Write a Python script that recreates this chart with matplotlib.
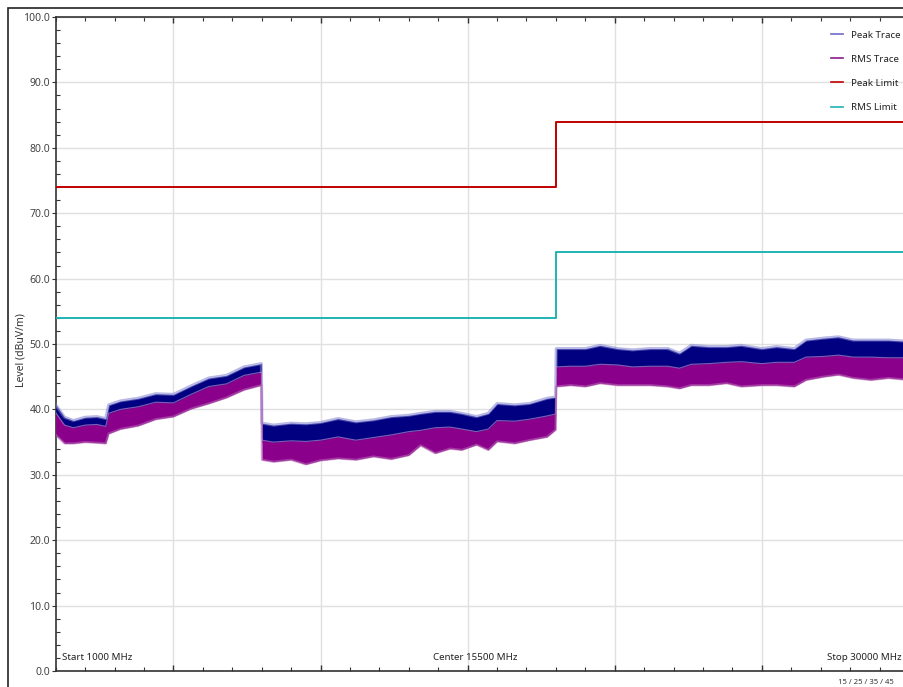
import numpy as np
import matplotlib.pyplot as plt
from matplotlib.lines import Line2D
from matplotlib.patches import Rectangle
from matplotlib.ticker import MultipleLocator, FormatStrFormatter

plt.rcParams['font.family'] = ['Noto Sans', 'DejaVu Sans']

# trace envelopes (MHz, dBuV/m)
freq = [1000, 1300, 1600, 2000, 2400, 2700, 2800, 3200, 3800, 4400, 5000, 5600,
        6200, 6800, 7400, 7990,
        8010, 8400, 9000, 9500, 10000, 10600, 11200, 11800, 12400, 13000, 13400,
        13900, 14400, 14800, 15300, 15700, 16000, 16600, 17100, 17700, 17990,
        18010, 18500, 19000, 19500, 20100, 20600, 21200, 21800, 22200, 22600,
        23200, 23800, 24300, 25000, 25500, 26100, 26500, 27100, 27600, 28100,
        28700, 29300, 30000]
peak_top = [40.7, 38.8, 38.3, 38.8, 38.9, 38.6, 40.7, 41.3, 41.7, 42.4, 42.3, 43.6,
            44.8, 45.2, 46.5, 47.0,
            37.9, 37.6, 37.9, 37.8, 38.0, 38.6, 38.1, 38.4, 38.9, 39.1, 39.4,
            39.7, 39.7, 39.4, 38.9, 39.4, 40.9, 40.7, 40.9, 41.7, 41.9,
            49.3, 49.3, 49.3, 49.8, 49.3, 49.1, 49.3, 49.3, 48.6, 49.8,
            49.6, 49.6, 49.8, 49.3, 49.6, 49.3, 50.6, 50.9, 51.1, 50.6,
            50.6, 50.6, 50.4]
rms_top = [39.5, 37.6, 37.2, 37.6, 37.7, 37.4, 39.4, 40.0, 40.4, 41.1, 41.0, 42.3,
           43.5, 43.9, 45.2, 45.7,
           35.3, 35.0, 35.2, 35.1, 35.3, 35.8, 35.3, 35.7, 36.1, 36.6, 36.8,
           37.2, 37.3, 37.0, 36.6, 37.0, 38.3, 38.2, 38.5, 39.0, 39.3,
           46.5, 46.6, 46.6, 46.9, 46.8, 46.5, 46.6, 46.6, 46.3, 46.9,
           47.0, 47.2, 47.3, 47.0, 47.2, 47.2, 48.0, 48.1, 48.3, 48.0,
           48.0, 47.9, 47.9]
rms_bottom = [36.1, 34.8, 34.8, 35.0, 34.9, 34.8, 36.3, 37.0, 37.5, 38.5, 38.9, 40.1,
              40.9, 41.8, 43.0, 43.7,
              32.3, 32.0, 32.3, 31.6, 32.2, 32.5, 32.3, 32.8, 32.4, 33.0, 34.5,
              33.3, 34.0, 33.8, 34.6, 33.8, 35.1, 34.8, 35.3, 35.8, 36.9,
              43.5, 43.7, 43.5, 44.0, 43.7, 43.7, 43.7, 43.5, 43.2, 43.7,
              43.7, 44.0, 43.5, 43.7, 43.7, 43.5, 44.5, 45.0, 45.3, 44.8,
              44.5, 44.8, 44.5]

limit_freq = [1000, 18000, 18000, 30000]
peak_limit = [74, 74, 84, 84]
rms_limit = [54, 54, 64, 64]

fig = plt.figure(figsize=(9.04, 6.87), dpi=100)
ax = fig.add_axes([55.7 / 904, 16 / 687, 853.3 / 904, 654 / 687])

# traces
ax.fill_between(freq, np.array(rms_top) - 0.5, peak_top, color='#000080', lw=0, zorder=3)
ax.plot(freq, peak_top, color='#8080d0', lw=2.2, alpha=0.55, zorder=3)
ax.fill_between(freq, rms_bottom, rms_top, color='#8b008b', lw=0, zorder=4)
ax.plot(freq, rms_top, color='#c8a0d8', lw=0.8, alpha=0.6, zorder=4)
ax.plot(freq, rms_bottom, color='#b060b0', lw=1.6, alpha=0.6, zorder=4)

# limits
ax.plot(limit_freq, peak_limit, color='#c00000', lw=1.4, zorder=5)
ax.plot(limit_freq, rms_limit, color='#1fb3b3', lw=1.4, zorder=5)

ax.set_xlim(1000, 30000)
ax.set_ylim(0, 100)
ax.xaxis.set_major_locator(MultipleLocator(5000))
ax.xaxis.set_minor_locator(MultipleLocator(1000))
ax.yaxis.set_major_locator(MultipleLocator(10))
ax.yaxis.set_minor_locator(MultipleLocator(2))
ax.yaxis.set_major_formatter(FormatStrFormatter('%.1f'))
ax.grid(True, which='major', color='#e0e0e0', lw=1)
ax.set_axisbelow(True)

ax.tick_params(axis='x', which='both', labelbottom=False, top=True, direction='in', color='#333333')
ax.tick_params(axis='x', which='major', length=4, width=1)
ax.tick_params(axis='x', which='minor', length=3, width=0.8)
ax.tick_params(axis='y', which='major', direction='out', length=3, labelsize=7.5,
               labelcolor='#444444', color='#333333', pad=1)
ax.tick_params(axis='y', which='minor', direction='in', length=3, width=0.8, color='#333333')
for s in ['left', 'bottom', 'top']:
    ax.spines[s].set_color('#333333')
    ax.spines[s].set_linewidth(1.2)

ax.set_ylabel('Level (dBuV/m)', fontsize=7.5, color='#333333')
ax.yaxis.set_label_coords(-0.034, 0.49)

ax.text(1200, 1.3, 'Start 1000 MHz', fontsize=7, color='#222222', ha='left', va='bottom')
ax.text(15250, 1.3, 'Center 15500 MHz', fontsize=7, color='#222222', ha='center', va='bottom')
fig.text(902 / 904, 16 / 687 + 0.013, 'Stop 30000 MHz', fontsize=7, color='#222222',
         ha='right', va='bottom')
fig.text(838 / 904, 1 - 682 / 687, '15 / 25 / 35 / 45', fontsize=5.5, color='#333333',
         ha='left', va='center')

handles = [Line2D([], [], color='#6b6bc8', lw=1.2),
           Line2D([], [], color='#8b1a8b', lw=1.2),
           Line2D([], [], color='#c00000', lw=1.2),
           Line2D([], [], color='#1fb3b3', lw=1.2)]
labels = ['Peak Trace', 'RMS Trace', 'Peak Limit', 'RMS Limit']
fig.legend(handles, labels, loc='upper left', bbox_to_anchor=(822 / 904, 1 - 22 / 687),
           frameon=False, fontsize=7, handlelength=1.3, handletextpad=0.8,
           labelspacing=1.55, labelcolor='#222222')

# outer frame of the screenshot
fig.patches.append(Rectangle((8 / 904, -0.05), 1.0, 1 - 8 / 687 + 0.05,
                             transform=fig.transFigure, fill=False,
                             edgecolor='#222222', lw=1.2))

plt.savefig('out.png', dpi=100)
